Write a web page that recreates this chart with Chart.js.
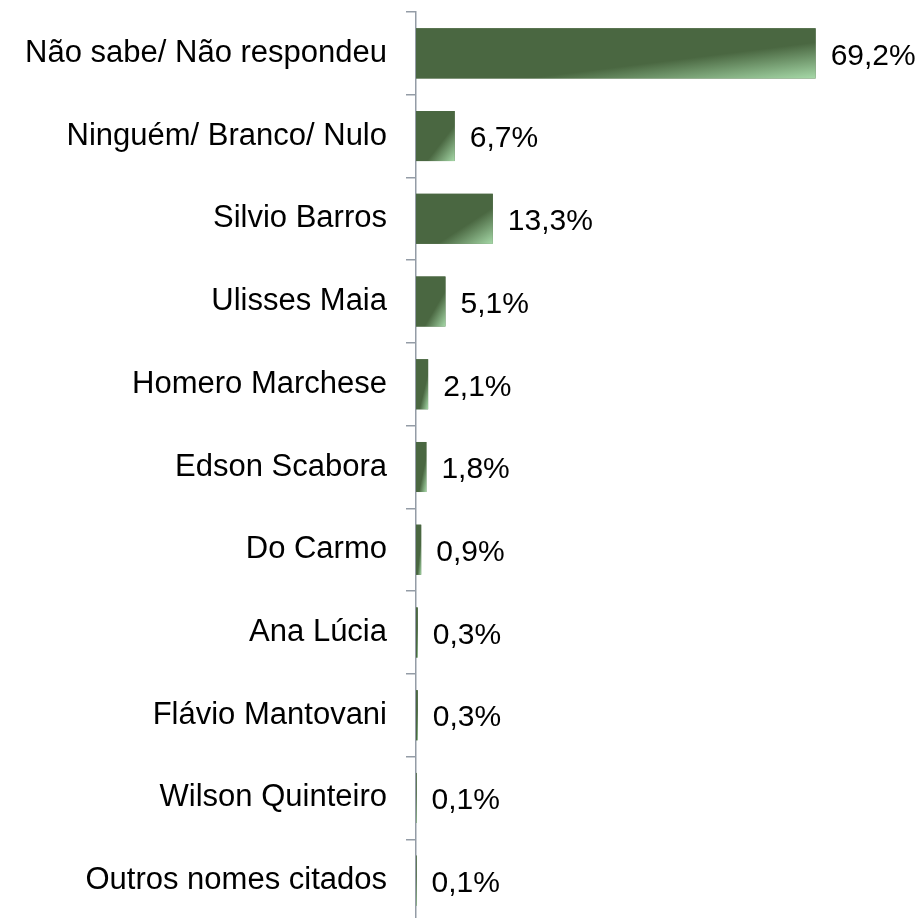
<!DOCTYPE html>
<html>
<head>
<meta charset="utf-8">
<script src="https://cdn.jsdelivr.net/npm/chart.js@4/dist/chart.umd.min.js"></script>
<style>
  html, body { margin: 0; padding: 0; background: #ffffff; overflow: hidden; }
  #wrap { position: relative; width: 924px; height: 922px; }
</style>
</head>
<body>
<div id="wrap"><canvas id="c"></canvas></div>
<script>
const categories = [
  "Não sabe/ Não respondeu",
  "Ninguém/ Branco/ Nulo",
  "Silvio Barros",
  "Ulisses Maia",
  "Homero Marchese",
  "Edson Scabora",
  "Do Carmo",
  "Ana Lúcia",
  "Flávio Mantovani",
  "Wilson Quinteiro",
  "Outros nomes citados"
];
const values = [69.2, 6.7, 13.3, 5.1, 2.1, 1.8, 0.9, 0.3, 0.3, 0.1, 0.1];
const valueLabels = ["69,2%", "6,7%", "13,3%", "5,1%", "2,1%", "1,8%", "0,9%", "0,3%", "0,3%", "0,1%", "0,1%"];

const DARK = '#4a6741';
const LIGHT = '#a6d9a8';
const AXIS = '#949ca6';
const FONT = "'Liberation Sans', Arial, sans-serif";

const gradientBars = {
  id: 'gradientBars',
  afterDatasetsDraw(chart) {
    const ctx = chart.ctx;
    const meta = chart.getDatasetMeta(0);
    meta.data.forEach((el) => {
      const p = el.getProps(['x', 'y', 'base', 'height'], true);
      const L = Math.min(p.x, p.base);
      const W = Math.abs(p.x - p.base);
      const T = p.y - p.height / 2;
      const H = p.height;
      if (W <= 0 || H <= 0) return;
      ctx.save();
      ctx.translate(L, T);
      ctx.scale(W, H);
      const g = ctx.createLinearGradient(0, 0, 1, 1);
      g.addColorStop(0, DARK);
      g.addColorStop(0.64, DARK);
      g.addColorStop(1, LIGHT);
      ctx.fillStyle = g;
      ctx.fillRect(0, 0, 1, 1);
      ctx.restore();
    });
    ctx.save();
    ctx.fillStyle = '#000000';
    ctx.font = "30px " + FONT;
    ctx.textAlign = 'left';
    ctx.textBaseline = 'middle';
    meta.data.forEach((el, i) => {
      const p = el.getProps(['x', 'y'], true);
      ctx.fillText(valueLabels[i], p.x + 15, p.y + 3);
    });
    ctx.restore();
  }
};

new Chart(document.getElementById('c'), {
  type: 'bar',
  data: {
    labels: categories,
    datasets: [{
      data: values,
      backgroundColor: DARK,
      borderWidth: 0,
      barPercentage: 0.605,
      categoryPercentage: 1
    }]
  },
  options: {
    indexAxis: 'y',
    responsive: true,
    maintainAspectRatio: false,
    animation: false,
    layout: { padding: { top: 12, right: 46, bottom: 0, left: 0 } },
    plugins: { legend: { display: false }, tooltip: { enabled: false } },
    scales: {
      x: { display: false, min: 0, max: 80 },
      y: {
        offset: true,
        grid: { drawOnChartArea: false, drawTicks: true, tickLength: 10, color: AXIS, offset: true, lineWidth: 1.5 },
        border: { color: AXIS, width: 1.5 },
        ticks: { color: '#000000', font: { family: FONT, size: 31 }, padding: 19 },
        afterFit(scale) {
          scale.width = 416;
          scale.paddingTop = 0;
          scale.paddingBottom = 0;
        }
      }
    }
  },
  plugins: [gradientBars]
});
</script>
</body>
</html>
